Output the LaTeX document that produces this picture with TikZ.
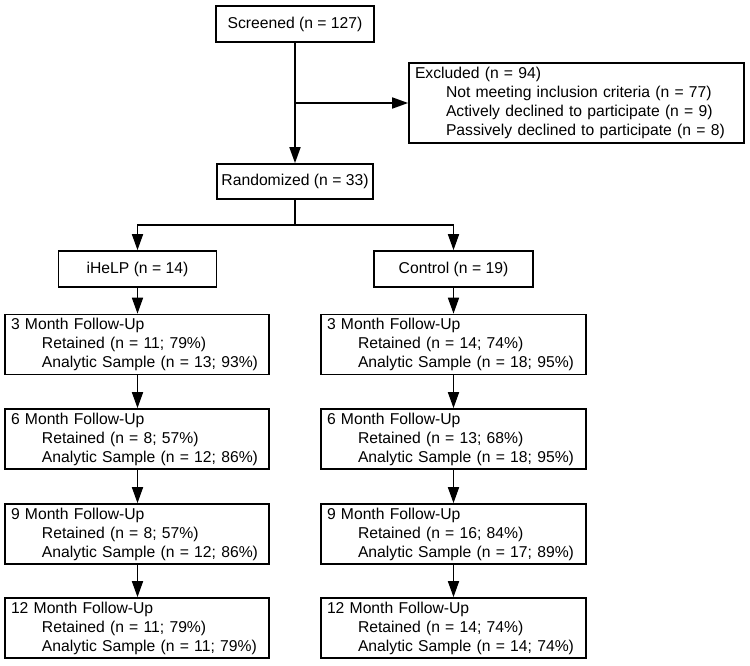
\documentclass[tikz,border=0pt]{standalone}
\usepackage{fontspec}
\setmainfont{Liberation Sans}
\usetikzlibrary{arrows.meta}
\begin{document}
\begin{tikzpicture}[x=1pt,y=-1pt,
  font=\fontsize{15.7}{19}\selectfont,
  box/.style={draw, line width=1.7pt, inner sep=0pt, align=center},
  multibox/.style={draw, line width=1.7pt, inner xsep=6pt, inner ysep=0pt, align=left},
  conn/.style={line width=1.7pt},
  arr/.style={conn, -{Triangle[length=16pt,width=11pt]}}]
\useasboundingbox (0,0) rectangle (750,665);
\newcommand{\ind}{\hspace*{31pt}}
\node[box, minimum width=158pt, minimum height=36pt] (scr) at (295,24) {Screened (n = 127)};
\node[multibox, minimum width=335pt, minimum height=80pt, text width=323pt] (exc) at (576.5,103)
  {Excluded (n = 94)\\\ind Not meeting inclusion criteria (n = 77)\\\ind Actively declined to participate (n = 9)\\\ind Passively declined to participate (n = 8)};
\node[box, minimum width=156pt, minimum height=35pt] (ran) at (295,181.5) {Randomized (n = 33)};
\node[box, minimum width=158pt, minimum height=36pt] (ihe) at (137.5,269) {iHeLP (n = 14)};
\node[box, minimum width=159pt, minimum height=36pt] (con) at (453.5,269) {Control (n = 19)};
% left column
\node[multibox, minimum width=264pt, minimum height=60pt, text width=252pt] (l3) at (137,344.5)
  {3 Month Follow-Up\\\ind Retained (n = 11; 79\%)\\\ind Analytic Sample (n = 13; 93\%)};
\node[multibox, minimum width=264pt, minimum height=60pt, text width=252pt] (l6) at (137,439)
  {6 Month Follow-Up\\\ind Retained (n = 8; 57\%)\\\ind Analytic Sample (n = 12; 86\%)};
\node[multibox, minimum width=264pt, minimum height=60pt, text width=252pt] (l9) at (137,534)
  {9 Month Follow-Up\\\ind Retained (n = 8; 57\%)\\\ind Analytic Sample (n = 12; 86\%)};
\node[multibox, minimum width=264pt, minimum height=60pt, text width=252pt] (l12) at (137,628)
  {12 Month Follow-Up\\\ind Retained (n = 11; 79\%)\\\ind Analytic Sample (n = 11; 79\%)};
% right column
\node[multibox, minimum width=265pt, minimum height=60pt, text width=253pt] (r3) at (453.5,344.5)
  {3 Month Follow-Up\\\ind Retained (n = 14; 74\%)\\\ind Analytic Sample (n = 18; 95\%)};
\node[multibox, minimum width=265pt, minimum height=60pt, text width=253pt] (r6) at (453.5,439)
  {6 Month Follow-Up\\\ind Retained (n = 13; 68\%)\\\ind Analytic Sample (n = 18; 95\%)};
\node[multibox, minimum width=265pt, minimum height=60pt, text width=253pt] (r9) at (453.5,534)
  {9 Month Follow-Up\\\ind Retained (n = 16; 84\%)\\\ind Analytic Sample (n = 17; 89\%)};
\node[multibox, minimum width=265pt, minimum height=60pt, text width=253pt] (r12) at (453.5,628)
  {12 Month Follow-Up\\\ind Retained (n = 14; 74\%)\\\ind Analytic Sample (n = 14; 74\%)};
% connectors
\coordinate (exj) at (295,103);
\coordinate (split) at (295,225);
\draw[arr] (scr.south) -- (ran.north);
\draw[arr] (exj) -- (exc.west);
\draw[conn] (ran.south) -- (split);
\draw[arr] (split) -| (ihe.north);
\draw[arr] (split) -| (con.north);
\draw[arr] (ihe.south) -- (ihe.south |- l3.north);
\draw[arr] (con.south) -- (con.south |- r3.north);
\draw[arr] (l3.south -| ihe.south) -- (l6.north -| ihe.south);
\draw[arr] (l6.south -| ihe.south) -- (l9.north -| ihe.south);
\draw[arr] (l9.south -| ihe.south) -- (l12.north -| ihe.south);
\draw[arr] (r3.south -| con.south) -- (r6.north -| con.south);
\draw[arr] (r6.south -| con.south) -- (r9.north -| con.south);
\draw[arr] (r9.south -| con.south) -- (r12.north -| con.south);
\end{tikzpicture}
\end{document}
